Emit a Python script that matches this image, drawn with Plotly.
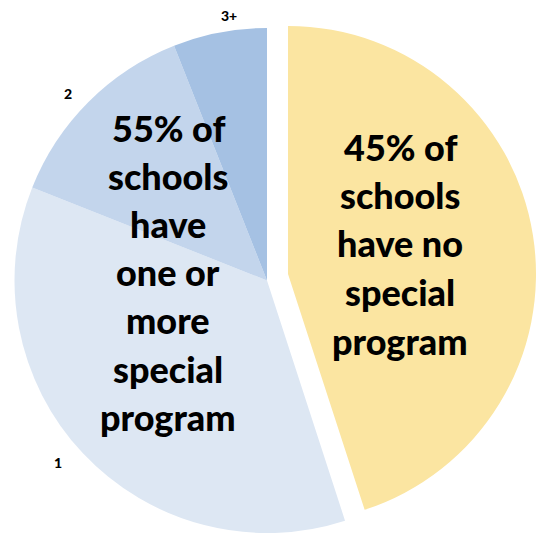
import plotly.graph_objects as go

W, H = 536, 533

# Data
categories = ["None", "1", "2", "3+"]
shares = [45, 36, 13, 6]
slice_labels = ["1", "2", "3+"]
left_text = ["55% of", "schools", "have", "one or", "more", "special", "program"]
right_text = ["45% of", "schools", "have no", "special", "program"]

colors_blue = ["rgba(0,0,0,0)", "#DDE7F3", "#C3D5EC", "#A5C1E3"]
colors_yellow = ["#FBE5A1", "rgba(0,0,0,0)", "rgba(0,0,0,0)", "rgba(0,0,0,0)"]


def px_dom_x(a, b):
    return [a / W, b / W]


def px_dom_y(top, bottom):
    return [max(0, 1 - bottom / H), min(1, 1 - top / H)]


fig = go.Figure()
# blue slices (programs)
fig.add_trace(go.Pie(
    labels=categories, values=shares, sort=False, direction="clockwise", rotation=0,
    marker=dict(colors=colors_blue, line=dict(width=0)),
    textinfo="none", hoverinfo="label+percent", showlegend=False,
    domain=dict(x=px_dom_x(14, 520), y=px_dom_y(28, 533)),
))
# exploded yellow slice (no program)
fig.add_trace(go.Pie(
    labels=categories, values=shares, sort=False, direction="clockwise", rotation=0,
    marker=dict(colors=colors_yellow, line=dict(width=0)),
    textinfo="none", hoverinfo="label+percent", showlegend=False,
    domain=dict(x=px_dom_x(40, 536), y=px_dom_y(26, 522)),
))

font_big = dict(family="Lato, Calibri, sans-serif", size=36, color="black", weight=900)
font_small = dict(family="Lato, Calibri, sans-serif", size=14, color="black", weight=900)

ann = []
left_y = [128, 176, 224, 272, 320, 369, 417]
for t, yy in zip(left_text, left_y):
    ann.append(dict(text=t, x=168 / W, y=1 - yy / H, xref="paper", yref="paper",
                    showarrow=False, xanchor="center", yanchor="middle", font=font_big))
right_y = [147, 195, 243, 292, 341]
for t, yy in zip(right_text, right_y):
    ann.append(dict(text=t, x=400 / W, y=1 - yy / H, xref="paper", yref="paper",
                    showarrow=False, xanchor="center", yanchor="middle", font=font_big))
label_pos = [(58, 462), (68, 93), (229, 15)]
for t, (xx, yy) in zip(slice_labels, label_pos):
    ann.append(dict(text=t, x=xx / W, y=1 - yy / H, xref="paper", yref="paper",
                    showarrow=False, xanchor="center", yanchor="middle", font=font_small))

fig.update_layout(
    width=W, height=H, margin=dict(l=0, r=0, t=0, b=0),
    paper_bgcolor="white", plot_bgcolor="white",
    annotations=ann,
)

fig.write_html("out.html")
